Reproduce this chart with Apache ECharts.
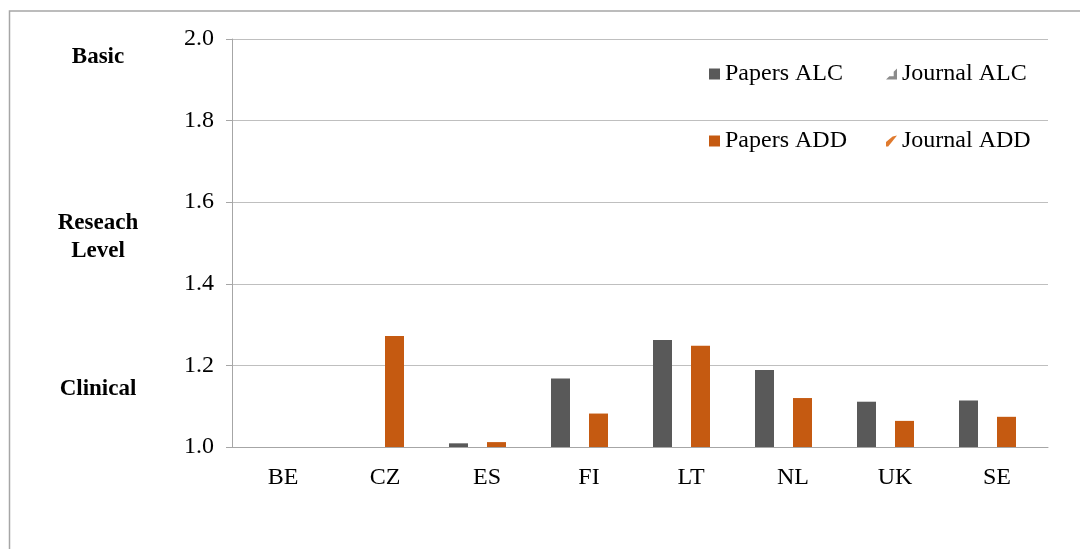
<!DOCTYPE html>
<html>
<head>
<meta charset="utf-8">
<script src="https://cdn.jsdelivr.net/npm/echarts@6/dist/echarts.min.js"></script>
<style>
  html, body { margin: 0; padding: 0; background: #fff; }
  #main { width: 1080px; height: 549px; }
</style>
</head>
<body>
<div id="main"></div>
<script>
// data
const countries = ['BE', 'CZ', 'ES', 'FI', 'LT', 'NL', 'UK', 'SE'];
const papersALC = [null, null, 1.009, 1.168, 1.262, 1.189, 1.111, 1.114];
const journalALC = [null, null, null, null, null, null, null, null];
const papersADD = [null, 1.272, 1.012, 1.082, 1.248, 1.120, 1.064, 1.074];
const journalADD = [null, null, null, null, null, null, null, null];
const yTicks = [1.0, 1.2, 1.4, 1.6, 1.8, 2.0];

const FONT = '"Liberation Serif", "Times New Roman", serif';
const GREY = '#595959';
const ORANGE = '#c55a11';

const chart = echarts.init(document.getElementById('main'));

// legend entries, one legend per entry so they sit in a 2x2 block
function legendAt(name, icon, left, top) {
  return {
    data: [{ name: name, icon: icon }],
    left: left,
    top: top,
    itemWidth: 11,
    itemHeight: 11,
    selectedMode: false,
    textStyle: { fontFamily: FONT, fontSize: 24, color: '#000' }
  };
}

function sideLabel(text, y) {
  return {
    type: 'text',
    x: 98,
    y: y,
    style: {
      text: text,
      font: 'bold 23px ' + FONT,
      fill: '#000',
      align: 'center',
      verticalAlign: 'middle',
      lineHeight: 28
    }
  };
}

const option = {
  animation: false,
  grid: { left: 232, right: 32, top: 39, bottom: 102 },
  legend: [
    legendAt('Papers ALC', 'rect', 704, 57),
    legendAt('Journal ALC', 'path://M10,0 L10,10 L0,10 L3,7 L7,7 L7,3 Z', 881, 57),
    legendAt('Papers ADD', 'rect', 704, 124),
    legendAt('Journal ADD', 'path://M0,10 L0,6 L6,1 L10,0 L2,10 Z', 881, 124)
  ],
  graphic: [
    {
      type: 'rect',
      silent: true,
      shape: { x: 9.5, y: 11, width: 1200, height: 700 },
      style: { fill: 'none', stroke: '#a6a6a6', lineWidth: 1.5 }
    },
    sideLabel('Basic', 57),
    sideLabel('Reseach\nLevel', 237),
    sideLabel('Clinical', 389)
  ],
  xAxis: {
    type: 'category',
    data: countries,
    axisLine: { lineStyle: { color: '#a6a6a6', width: 1 } },
    axisTick: { length: 8, lineStyle: { color: '#a6a6a6' } },
    axisLabel: { fontFamily: FONT, fontSize: 24, color: '#000', margin: 19 }
  },
  yAxis: {
    type: 'value',
    min: yTicks[0],
    max: yTicks[yTicks.length - 1],
    interval: 0.2,
    axisLine: { show: true, lineStyle: { color: '#a6a6a6', width: 1 } },
    axisTick: { show: true, length: 6, lineStyle: { color: '#a6a6a6' } },
    axisLabel: {
      fontFamily: FONT, fontSize: 24, color: '#000', margin: 18,
      formatter: v => v.toFixed(1)
    },
    splitLine: { lineStyle: { color: '#bfbfbf', width: 1 } }
  },
  series: [
    { name: 'Papers ALC', type: 'bar', data: papersALC, barWidth: 19, barGap: '0%', itemStyle: { color: GREY } },
    { name: 'Journal ALC', type: 'bar', data: journalALC, barWidth: 19, barGap: '0%', itemStyle: { color: '#8c8c8c' } },
    { name: 'Papers ADD', type: 'bar', data: papersADD, barWidth: 19, barGap: '0%', itemStyle: { color: ORANGE } },
    { name: 'Journal ADD', type: 'bar', data: journalADD, barWidth: 19, barGap: '0%', itemStyle: { color: '#e07a2e' } }
  ]
};

chart.setOption(option);
</script>
</body>
</html>
